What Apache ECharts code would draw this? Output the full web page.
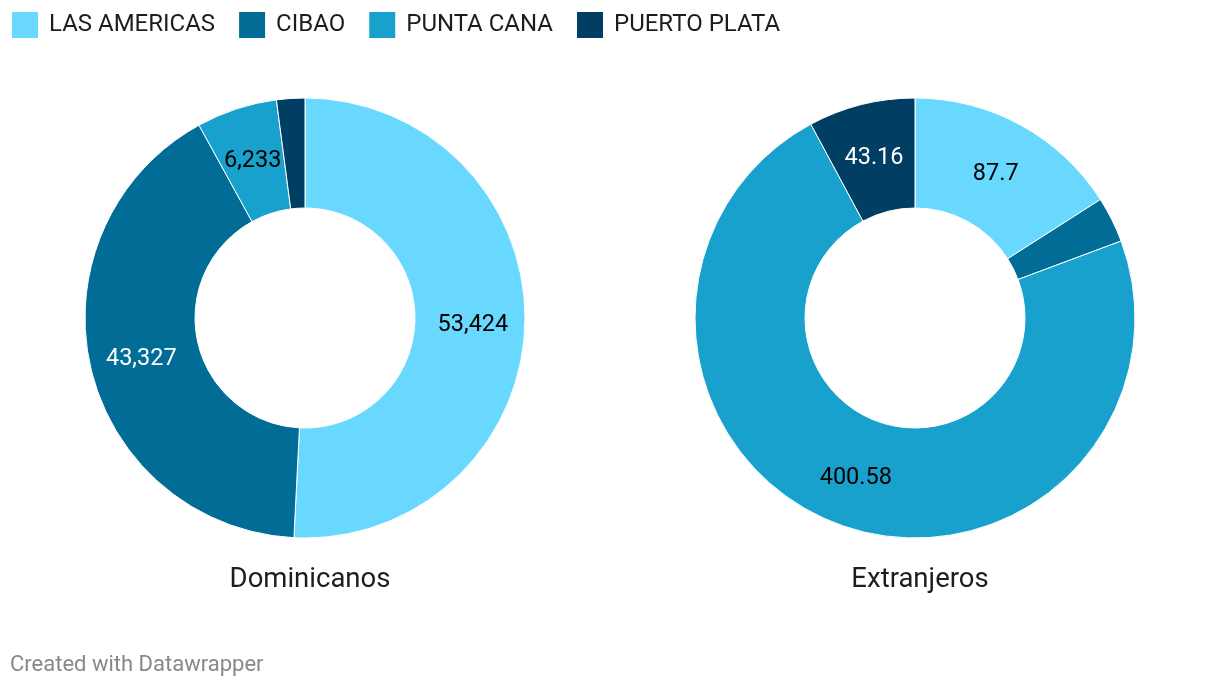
<!DOCTYPE html>
<html><head><meta charset="utf-8">
<script src="https://cdn.jsdelivr.net/npm/echarts@6/dist/echarts.min.js"></script>
<style>html,body{margin:0;padding:0;background:#fff}#c{width:1220px;height:688px}</style>
</head><body><div id="c"></div>
<script>
const categories = ['LAS AMERICAS', 'CIBAO', 'PUNTA CANA', 'PUERTO PLATA'];
const dominicanos = [53424, 43327, 6233, 2180];
const extranjeros = [87.7, 18.5, 400.58, 43.16];
const dominicanosLabels = ['53,424', '43,327', '6,233', ''];
const extranjerosLabels = ['87.7', '', '400.58', '43.16'];
const panelTitles = ['Dominicanos', 'Extranjeros'];
const colors = ['#69d8fe', '#016d97', '#18a1cd', '#003e63'];
const labelColors = ['#000', '#fff', '#000', '#fff'];

function buildData(vals, labels) {
  return categories.map((c, i) => ({
    name: c, value: vals[i],
    itemStyle: { color: colors[i] },
    label: { show: labels[i] !== '', formatter: labels[i], color: labelColors[i] }
  }));
}
const chart = echarts.init(document.getElementById('c'));
const pieBase = {
  type: 'pie', radius: [110, 220], startAngle: 90, clockwise: true,
  avoidLabelOverlap: false, silent: true,
  itemStyle: { borderColor: '#fff', borderWidth: 1 },
  label: { position: 'inside', fontFamily: 'Roboto', fontSize: 23.5, offset: [0, 3] },
  labelLine: { show: false }
};
chart.setOption({
  animation: false,
  textStyle: { fontFamily: 'Roboto' },
  legend: {
    left: 10, top: 10, padding: 0, itemWidth: 28, itemHeight: 28, itemGap: 22,
    icon: 'rect', data: categories,
    textStyle: { fontSize: 24, color: '#1d1d1d', fontFamily: 'Roboto', padding: [0, 0, 0, 5] }
  },
  title: [
    { text: panelTitles[0], left: 305, top: 561, textAlign: 'center', textStyle: { fontSize: 27.5, fontWeight: 'normal', color: '#1d1d1d', fontFamily: 'Roboto' } },
    { text: panelTitles[1], left: 915, top: 561, textAlign: 'center', textStyle: { fontSize: 27.5, fontWeight: 'normal', color: '#1d1d1d', fontFamily: 'Roboto' } },
    { text: 'Created with Datawrapper', left: 10, top: 654, padding: 0, textStyle: { fontSize: 22, fontWeight: 'normal', color: '#888', fontFamily: 'Roboto' } }
  ],
  series: [
    Object.assign({}, pieBase, { name: panelTitles[0], center: [305, 318], data: buildData(dominicanos, dominicanosLabels) }),
    Object.assign({}, pieBase, { name: panelTitles[1], center: [915, 318], data: buildData(extranjeros, extranjerosLabels) })
  ]
});
</script></body></html>
